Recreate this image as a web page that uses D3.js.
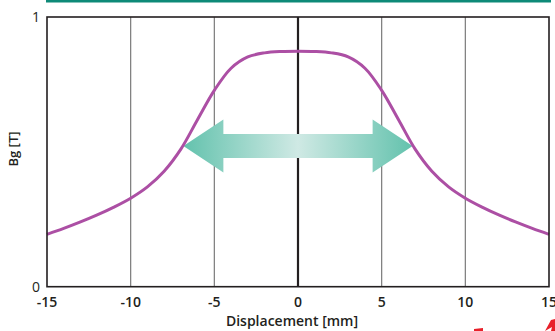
<!DOCTYPE html>
<html><head><meta charset="utf-8">
<script src="https://cdn.jsdelivr.net/npm/d3@7"></script>
<style>
html,body{margin:0;padding:0;background:#fff;}
svg{display:block;}
text{font-family:"Open Sans","Noto Sans",sans-serif;fill:#231f20;}
</style></head>
<body>
<script>
// Data
const displacement = [-15,-14,-13,-12,-11,-10,-9,-8,-7,-6,-5,-4,-3,-2,-1,0,1,2,3,4,5,6,7,8,9,10,11,12,13,14,15];
const bg = [0.194,0.216,0.240,0.266,0.295,0.328,0.370,0.428,0.510,0.620,0.728,0.810,0.852,0.867,0.872,0.873,0.872,0.867,0.852,0.810,0.728,0.620,0.510,0.428,0.370,0.328,0.295,0.266,0.240,0.216,0.194];
const xTicks = [-15,-10,-5,0,5,10,15];
const yTicks = [0,1];
const gridLines = [-10,-5,5,10];
const arrowSpan = [-6.85, 6.85];
const arrowLevel = 0.522;

const W = 555, H = 331;
const svg = d3.select("body").append("svg").attr("width", W).attr("height", H);

const x = d3.scaleLinear().domain([-15,15]).range([47,549]);
const y = d3.scaleLinear().domain([0,1]).range([286.7,17]);

// top banner strip
svg.append("rect").attr("x",46).attr("y",0).attr("width",505).attr("height",2.5).attr("fill","#0e8a78");

// grid
svg.append("g").selectAll("line").data(gridLines).join("line")
  .attr("x1",d=>x(d)).attr("x2",d=>x(d)).attr("y1",y(1)).attr("y2",y(0))
  .attr("stroke","#7a7a7a").attr("stroke-width",1.2);

// arrow with gradient
const defs = svg.append("defs");
const grad = defs.append("linearGradient").attr("id","ag").attr("gradientUnits","userSpaceOnUse")
  .attr("x1",x(arrowSpan[0])).attr("x2",x(arrowSpan[1])).attr("y1",0).attr("y2",0);
grad.append("stop").attr("offset","0%").attr("stop-color","#63c2ad");
grad.append("stop").attr("offset","50%").attr("stop-color","#cfe9e4");
grad.append("stop").attr("offset","100%").attr("stop-color","#63c2ad");

const ax0 = x(arrowSpan[0]), ax1 = x(arrowSpan[1]), ay = y(arrowLevel);
const headL = 40, shaftH = 12, headH = 26.5;
const arrowPts = [
  [ax0, ay],[ax0+headL, ay-headH],[ax0+headL, ay-shaftH],[ax1-headL, ay-shaftH],[ax1-headL, ay-headH],
  [ax1, ay],[ax1-headL, ay+headH],[ax1-headL, ay+shaftH],[ax0+headL, ay+shaftH],[ax0+headL, ay+headH]
];

// zero line (drawn beneath arrow)
svg.append("line").attr("x1",x(0)).attr("x2",x(0)).attr("y1",y(1)).attr("y2",y(0))
  .attr("stroke","#231f20").attr("stroke-width",2.2);

svg.append("path").attr("d", "M"+arrowPts.map(p=>p.join(",")).join("L")+"Z").attr("fill","url(#ag)");

// curve
const line = d3.line().x((d,i)=>x(displacement[i])).y(d=>y(d)).curve(d3.curveCatmullRom.alpha(0.5));
svg.append("path").attr("d", line(bg)).attr("fill","none").attr("stroke","#ac4fa4").attr("stroke-width",3);

// frame
svg.append("rect").attr("x",x(-15)).attr("y",y(1)).attr("width",x(15)-x(-15)).attr("height",y(0)-y(1))
  .attr("fill","none").attr("stroke","#231f20").attr("stroke-width",1.6);

// x tick labels
svg.append("g").selectAll("text").data(xTicks).join("text")
  .attr("x",d=>x(d)).attr("y",306.5).attr("text-anchor","middle")
  .attr("font-size",14).attr("font-weight",600).text(d=>d);

// y tick labels
svg.append("g").selectAll("text").data(yTicks).join("text")
  .attr("x",40).attr("y",d=>y(d)+5).attr("text-anchor","end")
  .attr("font-size",14).attr("font-weight",400).text(d=>d);

// axis titles
svg.append("text").attr("x",292).attr("y",326).attr("text-anchor","middle")
  .attr("font-size",14).attr("font-weight",600).text("Displacement [mm]");
svg.append("text").attr("transform","translate(18,149) rotate(-90)").attr("text-anchor","middle")
  .attr("font-size",13).attr("font-weight",600).text("Bg [T]");

// cut-off red marks at bottom right
svg.append("path").attr("d","M474,329 L483,328 L483,331 L474,331 Z").attr("fill","#e8202a");
svg.append("path").attr("d","M545,331 L551,320 L555,319 L555,331 L551,331 L552,327 Z").attr("fill","#e8202a");
</script>
</body></html>
